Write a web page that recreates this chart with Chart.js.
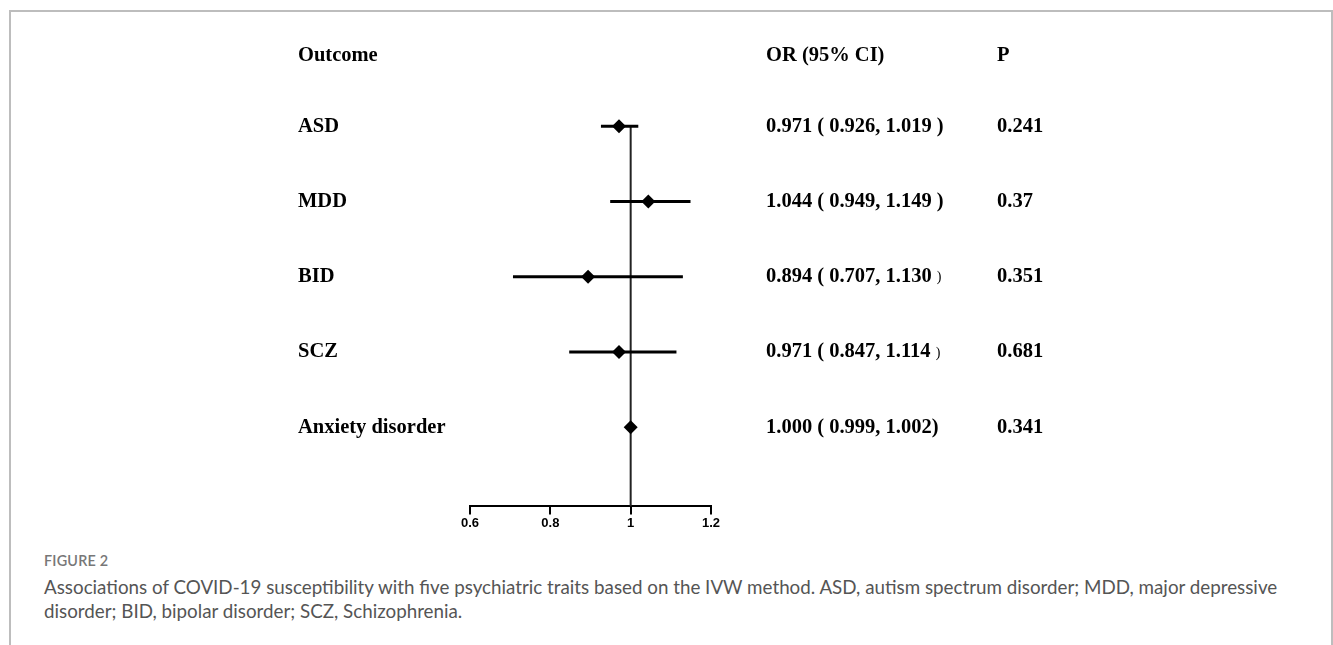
<!DOCTYPE html>
<html>
<head>
<meta charset="utf-8">
<script src="https://cdn.jsdelivr.net/npm/chart.js@4.4.1/dist/chart.umd.min.js"></script>
<style>
  html, body { margin: 0; padding: 0; background: #fff; }
  body { width: 1333px; height: 645px; overflow: hidden; position: relative; }
  .frame { position: absolute; left: 9px; top: 10px; width: 1324px; height: 700px;
           border-left: 2px solid #bdbdbd; border-top: 2px solid #bdbdbd; border-right: 2px solid #bdbdbd; box-sizing: border-box; }
  #wrap { position: absolute; left: 0; top: 0; width: 1333px; height: 540px; }
  .fig { position: absolute; left: 44px; top: 552px; font: 600 14.4px Lato, "Open Sans", sans-serif; color: #777; letter-spacing: 0.2px; }
  .cap { position: absolute; left: 44px; top: 575px; font: 18.8px Lato, "Open Sans", sans-serif; color: #555; line-height: 24px; white-space: nowrap; }
</style>
</head>
<body>
<div class="frame"></div>
<div id="wrap"><canvas id="forest"></canvas></div>
<div class="fig">FIGURE 2</div>
<div class="cap">Associations of COVID-19 susceptibility with five psychiatric traits based on the IVW method. ASD, autism spectrum disorder; MDD, major depressive<br>disorder; BID, bipolar disorder; SCZ, Schizophrenia.</div>
<script>
// data
const outcomes = ['ASD', 'MDD', 'BID', 'SCZ', 'Anxiety disorder'];
const orValues = [0.971, 1.044, 0.894, 0.971, 1.000];
const ciLow = [0.926, 0.949, 0.707, 0.847, 0.999];
const ciHigh = [1.019, 1.149, 1.130, 1.114, 1.002];
const orLabels = ['0.971 ( 0.926, 1.019 )', '1.044 ( 0.949, 1.149 )', '0.894 ( 0.707, 1.130 \uFF09', '0.971 ( 0.847, 1.114 \uFF09', '1.000 ( 0.999, 1.002)'];
const pValues = ['0.241', '0.37', '0.351', '0.681', '0.341'];
const xTicks = [0.6, 0.8, 1, 1.2];
const headers = ['Outcome', 'OR (95% CI)', 'P'];

const rowOf = i => i + 1; // header sits on row 0

// ci bars, one small line dataset each
const ciSets = outcomes.map((name, i) => ({
  type: 'line',
  label: name,
  data: [{ x: ciLow[i], y: rowOf(i) }, { x: ciHigh[i], y: rowOf(i) }],
  borderColor: '#000',
  borderWidth: 3,
  pointRadius: 0,
  order: 2
}));

const refLine = {
  type: 'line',
  label: 'ref',
  data: [{ x: 1, y: 1 }, { x: 1, y: 6.05 }],
  borderColor: '#222',
  borderWidth: 2,
  pointRadius: 0,
  order: 3
};

const points = {
  type: 'scatter',
  label: 'OR',
  data: orValues.map((v, i) => ({ x: v, y: rowOf(i) })),
  pointStyle: 'rectRot',
  pointRadius: 7,
  backgroundColor: '#000',
  borderColor: '#000',
  borderWidth: 0,
  order: 1
};

// text columns drawn against the y scale
const columnText = {
  id: 'columnText',
  afterDraw(chart) {
    const ctx = chart.ctx;
    const y = chart.scales.y;
    const cols = [298, 766, 997];
    ctx.save();
    ctx.fillStyle = '#000';
    ctx.textBaseline = 'middle';
    ctx.textAlign = 'left';
    const big = 'bold 20.5px "Liberation Serif", "Times New Roman", serif';
    ctx.font = big;
    headers.forEach((h, c) => ctx.fillText(h, cols[c], y.getPixelForValue(0) + 5));
    outcomes.forEach((name, i) => {
      const py = y.getPixelForValue(rowOf(i));
      ctx.font = big;
      ctx.fillText(name, cols[0], py);
      let lab = orLabels[i];
      if (lab.endsWith('\uFF09')) {
        lab = lab.slice(0, -1);
        ctx.fillText(lab, cols[1], py);
        const w = ctx.measureText(lab).width;
        ctx.font = '14px "Liberation Serif", serif';
        ctx.fillText(')', cols[1] + w, py + 1);
        ctx.font = big;
      } else {
        ctx.fillText(lab, cols[1], py);
      }
      ctx.fillText(pValues[i], cols[2], py);
    });
    ctx.restore();
  }
};

new Chart(document.getElementById('forest'), {
  data: { datasets: [refLine, ...ciSets, points] },
  options: {
    responsive: true,
    maintainAspectRatio: false,
    animation: false,
    layout: { padding: { left: 470, right: 622, top: 51, bottom: 8 } },
    plugins: { legend: { display: false }, tooltip: { enabled: false } },
    scales: {
      x: {
        type: 'linear',
        min: 0.6,
        max: 1.2,
        afterBuildTicks: axis => { axis.ticks = xTicks.map(v => ({ value: v })); },
        grid: { drawOnChartArea: false, drawTicks: true, tickLength: 8, color: '#000', lineWidth: 2 },
        border: { display: true, color: '#000', width: 2 },
        ticks: {
          color: '#000',
          padding: 1,
          font: { family: '"Liberation Sans", Arial, sans-serif', size: 13, weight: 'bold' },
          callback: v => String(v)
        }
      },
      y: {
        type: 'linear',
        display: false,
        reverse: true,
        min: 0,
        max: 6.05
      }
    }
  },
  plugins: [columnText]
});
</script>
</body>
</html>
